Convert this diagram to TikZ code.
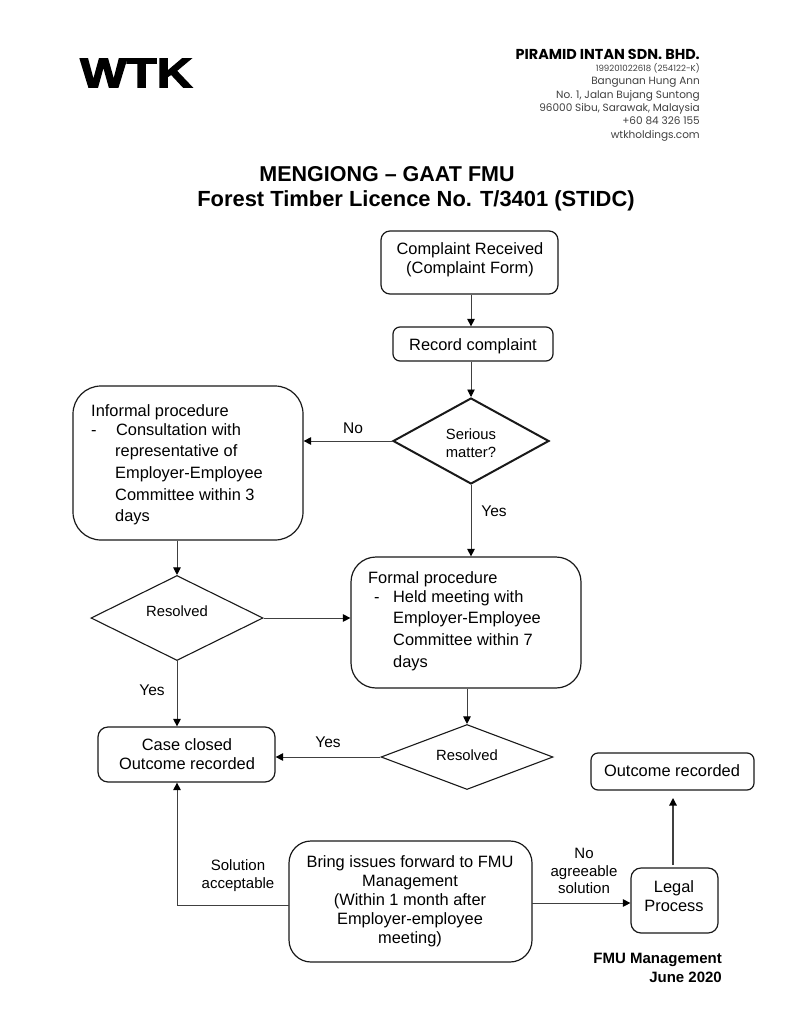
\documentclass[tikz,border=0pt]{standalone}
\usepackage{fontspec}
\setmainfont{Liberation Sans}
\newfontfamily\addrfont{Poppins}
\newfontfamily\logofont[FakeBold=3]{Liberation Sans Bold}
\usetikzlibrary{shapes.geometric,arrows.meta}
\tikzset{
  x=1pt,y=-1pt,
  rbox/.style={draw=black!90,line width=1.2pt,rounded corners=#1,inner sep=0pt,align=center,font=\fontsize{16.4}{19}\selectfont},
  dia/.style={draw=black!90,line width=1.1pt,inner sep=0pt,diamond},
  diatxt/.style={inner sep=0pt,align=center,font=\fontsize{14.8}{17.5}\selectfont},
  arr/.style={draw=black!75,line width=0.9pt,-{Triangle[length=7.5pt,width=7.5pt,black]}},
  lab/.style={inner sep=0pt,align=center,font=\fontsize{15}{17.5}\selectfont},
  txt/.style={inner sep=0pt,align=center,font=\fontsize{16.4}{19}\selectfont},
  ltxt/.style={inner sep=0pt,anchor=north west,align=left,font=\fontsize{16.4}{21.7}\selectfont},
}
\newcommand{\boxat}[7]{\node[#1,minimum width=#4-#2,minimum height=#5-#3] (#6) at ({(#2+#4)/2},{(#3+#5)/2}) {#7};}
\begin{document}
\begin{tikzpicture}
\useasboundingbox (0,0) rectangle (792,1024);
\node[inner sep=0pt,anchor=west,xscale=1.07,yscale=0.9,font=\fontsize{46}{46}\logofont] (logo) at (80,73) {WTK};
\node[inner sep=0pt,anchor=north east,align=right,font=\addrfont\fontsize{10.5}{13.4}\selectfont,text=black!75] (addr) at (700,49.5)
  {{\fontsize{14.4}{15}\selectfont\bfseries\color{black}PIRAMID INTAN SDN. BHD.}\\[-2pt]
   {\fontsize{8.6}{11}\selectfont 199201022618 (254122-K)}\\
   Bangunan Hung Ann\\No. 1, Jalan Bujang Suntong\\96000 Sibu, Sarawak, Malaysia\\+60 84 326 155\\wtkholdings.com};
\node[inner sep=0pt,font=\bfseries\fontsize{21.5}{25}\selectfont] (t1) at (387,174.5) {MENGIONG -- GAAT FMU};
\node[inner sep=0pt,font=\bfseries\fontsize{21.9}{25}\selectfont] (t2) at (416,200.5) {Forest Timber Licence No. T/3401 (STIDC)};

\boxat{rbox=9pt}{381}{231}{558}{294}{complaint}{}
\node[txt] (ctxt) at (470,259.5) {Complaint Received\\(Complaint Form)};
\boxat{rbox=7pt}{393}{327}{553}{361}{record}{}
\node[txt] (rtxt) at (473,346) {Record complaint};
\node[dia,line width=2pt,minimum width=156pt,minimum height=86pt,aspect=1.8] (serious) at (471,441) {};
\node[diatxt] (stxt) at (471,443) {Serious\\matter?};
\boxat{rbox=28pt}{73}{386}{303}{540}{informal}{}
\node[ltxt] (inftxt) at (91,404)
 {Informal procedure\\[-2.7pt]-\hspace{19.4pt}Consultation with\\\hspace{24pt}representative of\\\hspace{24pt}Employer-Employee\\\hspace{24pt}Committee within 3\\\hspace{24pt}days};
\node[dia,minimum width=172pt,minimum height=85pt,aspect=2] (res1) at (177,618) {};
\node[diatxt] (r1txt) at (177,611) {Resolved};
\boxat{rbox=25pt}{351}{557}{581}{688}{formal}{}
\node[ltxt] (fortxt) at (368,571)
 {Formal procedure\\[-2.7pt]\hspace{6pt}-\hspace{13.4pt}Held meeting with\\\hspace{25pt}Employer-Employee\\\hspace{25pt}Committee within 7\\\hspace{25pt}days};
\node[dia,minimum width=172pt,minimum height=65pt,aspect=2.6] (res2) at (467,757) {};
\node[diatxt] (r2txt) at (467,755.5) {Resolved};
\boxat{rbox=10pt}{98}{727}{275}{782}{closed}{}
\node[txt] (cltxt) at (187,754.5) {Case closed\\Outcome recorded};
\boxat{rbox=7pt}{591}{753}{754}{790}{outcome}{}
\node[txt] (otxt) at (672,771) {Outcome recorded};
\boxat{rbox=22pt}{289}{841}{532}{962}{bring}{}
\node[txt] (btxt) at (410,901.5) {Bring issues forward to FMU\\Management\\(Within 1 month after\\Employer-employee\\meeting)};
\boxat{rbox=10pt}{631}{868}{718}{933}{legal}{}
\node[txt] (lgtxt) at (674,896) {Legal\\Process};

\node[inner sep=0pt,align=right,anchor=north east,font=\bfseries\fontsize{15}{19}\selectfont] (fmu) at (722,953) {FMU Management\\June 2020};

\coordinate (ca) at (471,294);
\draw[arr] (complaint.south -| ca) -- (record.north -| ca);
\draw[arr] (record.south -| ca) -- (serious.north);
\draw[arr] (serious.west) -- (informal.east |- serious.west);
\draw[arr] (serious.south) -- (formal.north -| serious.south);
\draw[arr] (informal.south -| res1.north) -- (res1.north);
\draw[arr] (res1.east) -- (formal.west |- res1.east);
\draw[arr] (res1.south) -- (closed.north -| res1.south);
\draw[arr] (formal.south -| res2.north) -- (res2.north);
\draw[arr] (res2.west) -- (closed.east |- res2.west);
\coordinate (bl) at (289,905);
\draw[arr] (bl) -- (res1.south |- bl) -- (res1.south |- closed.south);
\coordinate (br) at (532,903);
\draw[arr] (br) -- (legal.west |- br);
\coordinate (lo) at (673,865);
\coordinate (lt) at (673,798);
\draw[arr,line width=1.2pt] (lo) -- (lt);

\node[lab,font=\fontsize{15.5}{17}\selectfont] (lno) at (353,428) {No};
\node[lab,font=\fontsize{15.5}{17}\selectfont] (lyes1) at (494,511) {Yes};
\node[lab,font=\fontsize{15.5}{17}\selectfont] (lyes2) at (152,690) {Yes};
\node[lab,font=\fontsize{15.5}{17}\selectfont] (lyes3) at (328,742) {Yes};
\node[lab] (lsol) at (238,875.5) {Solution\\acceptable};
\node[lab] (lnoa) at (584,871) {No\\agreeable\\solution};
\end{tikzpicture}
\end{document}
